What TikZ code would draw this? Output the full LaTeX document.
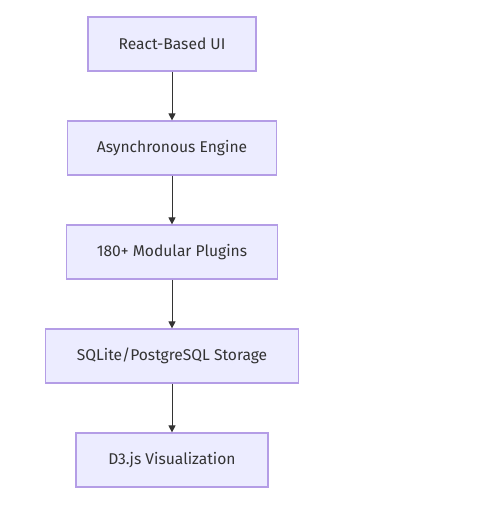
\documentclass[tikz,border=0pt]{standalone}
\usepackage{fontspec}
\setmainfont{Fira Sans}
\usetikzlibrary{arrows.meta}
\definecolor{boxfill}{HTML}{ECECFF}
\definecolor{boxline}{HTML}{B49DE6}
\definecolor{arrline}{HTML}{333333}
\tikzset{
  stage/.style={draw=boxline,fill=boxfill,line width=1.2pt,minimum height=54pt,inner sep=0pt,font=\fontsize{15.6}{18}\selectfont,text=arrline},
  flow/.style={draw=arrline,line width=0.9pt,-{Triangle[length=7pt,width=7pt]}}
}
\begin{document}
\begin{tikzpicture}[x=1pt,y=1pt]
\useasboundingbox (0,0) rectangle (504,-507);
\node[stage,minimum width=168pt] (ui) at (172,-44) {React-Based UI};
\node[stage,minimum width=209pt] (engine) at (172,-148) {Asynchronous Engine};
\node[stage,minimum width=211pt] (plugins) at (172,-252) {180+ Modular Plugins};
\node[stage,minimum width=253pt] (storage) at (172,-356) {SQLite/PostgreSQL Storage};
\node[stage,minimum width=192pt] (viz) at (172,-460) {D3.js Visualization};
\draw[flow] (ui) -- (engine);
\draw[flow] (engine) -- (plugins);
\draw[flow] (plugins) -- (storage);
\draw[flow] (storage) -- (viz);
\end{tikzpicture}
\end{document}
